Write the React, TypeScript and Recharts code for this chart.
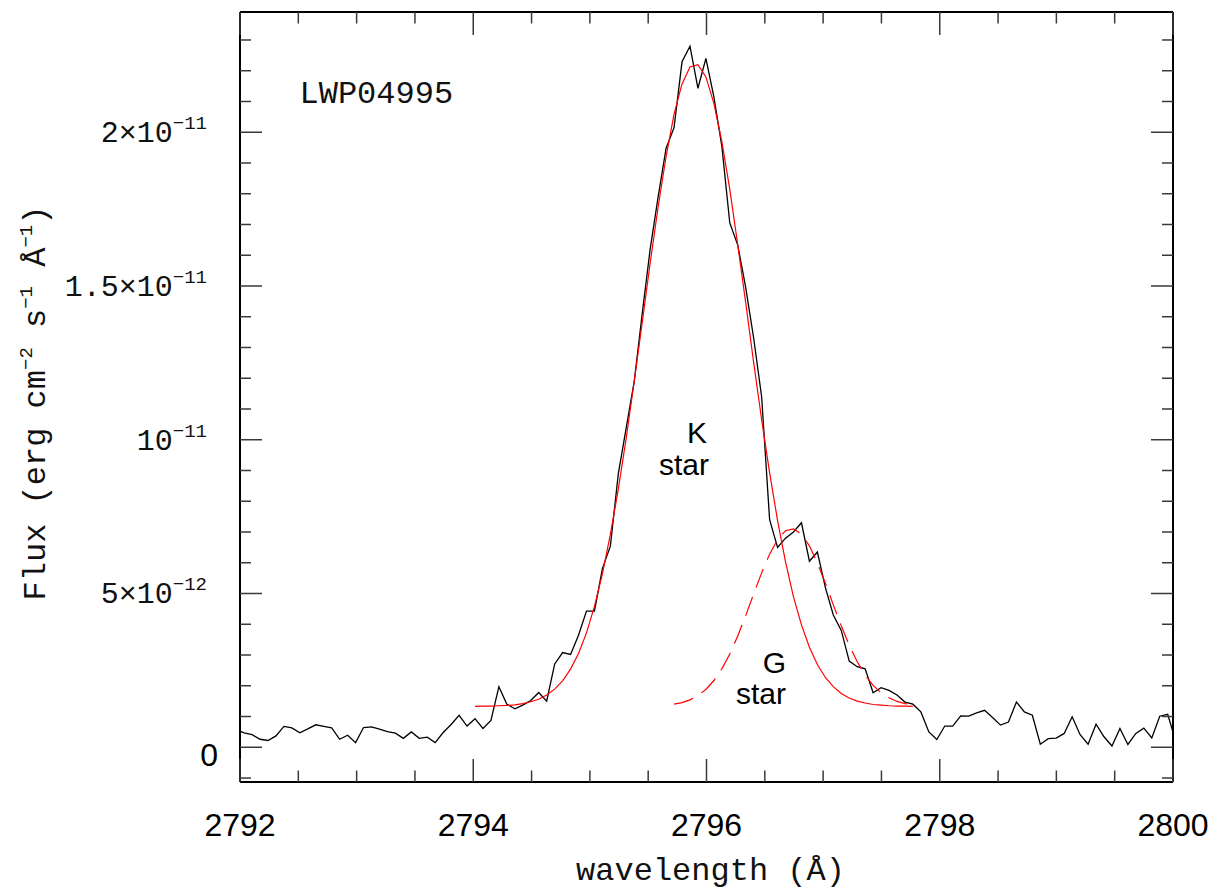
import React from 'react';
import { LineChart, Line, XAxis, YAxis, ReferenceDot } from 'recharts';

// IUE spectrum sampling (first sample sits just left of the frame)
const WAVE_START = 2791.967;
const WAVE_STEP = 0.06827;

// observed flux, units of 1e-12 erg cm-2 s-1 A-1
const FLUX = [
  0.57, 0.47, 0.41, 0.26, 0.22, 0.37, 0.68, 0.63, 0.47, 0.6, 0.73, 0.68, 0.63, 0.26, 0.39, 0.15,
  0.64, 0.66, 0.59, 0.51, 0.46, 0.29, 0.5, 0.29, 0.33, 0.15, 0.48, 0.74, 1.04, 0.69, 0.93, 0.61,
  0.87, 1.97, 1.4, 1.25, 1.37, 1.52, 1.78, 1.5, 2.7, 3.08, 3.02, 3.64, 4.43, 4.43, 5.81, 6.54,
  8.9, 10.4, 11.9, 14.1, 16.2, 17.9, 19.48, 20.15, 22.29, 22.8, 21.43, 22.4, 21.15, 19.55, 17.05, 16.33,
  14.95, 13.3, 11.4, 7.4, 6.5, 6.8, 7.0, 7.3, 6.05, 6.35, 5.2, 4.3, 3.8, 2.8, 2.62, 2.55,
  1.77, 1.94, 1.85, 1.7, 1.47, 1.4, 1.15, 0.5, 0.25, 0.69, 0.69, 1.02, 1.01, 1.12, 1.2, 0.97,
  0.72, 0.82, 1.47, 1.15, 1.04, 0.1, 0.28, 0.3, 0.45, 0.99, 0.41, 0.1, 0.75, 0.34, 0.04, 0.61,
  0.09, 0.45, 0.62, 0.3, 1.01, 1.07, 0.2,
];

// gaussian fit of the K star component (solid red), starts at sample 30
const FIT_K_START = 30;
const FIT_K = [
  1.33, 1.34, 1.34, 1.35, 1.36, 1.38, 1.42, 1.48, 1.56, 1.7, 1.89, 2.16, 2.54, 3.05, 3.72, 4.58,
  5.64, 6.92, 8.4, 10.07, 11.91, 13.81, 15.75, 17.57, 19.21, 20.59, 21.57, 22.12, 22.2, 21.8, 20.94, 19.7,
  18.14, 16.34, 14.45, 12.51, 10.65, 8.93, 7.37, 6.03, 4.89, 3.98, 3.25, 2.69, 2.27, 1.97, 1.75, 1.6,
  1.5, 1.44, 1.39, 1.37, 1.35, 1.34, 1.34, 1.33,
];

// gaussian fit of the G star component (dashed red), starts at sample 55
const FIT_G_START = 55;
const FIT_G = [
  1.4, 1.45, 1.54, 1.68, 1.88, 2.17, 2.55, 3.03, 3.62, 4.28, 4.99, 5.67, 6.28, 6.76, 7.04, 7.1,
  6.93, 6.55, 5.99, 5.34, 4.63, 3.95, 3.32, 2.78, 2.35, 2.01, 1.77, 1.61, 1.49, 1.42, 1.38,
];

const X_TICKS = [
  2792, 2792.5, 2793, 2793.5, 2794, 2794.5, 2795, 2795.5, 2796, 2796.5, 2797, 2797.5, 2798,
  2798.5, 2799, 2799.5, 2800,
];
const X_LABELS = [2792, 2794, 2796, 2798, 2800];

const Y_TICKS = [-1, 0, 1, 2, 3, 4, 5, 6, 7, 8, 9, 10, 11, 12, 13, 14, 15, 16, 17, 18, 19, 20, 21, 22, 23];
const Y_LABELS = [
  { value: 0, mantissa: '0', exp: '' },
  { value: 5, mantissa: '5×10', exp: '−12' },
  { value: 10, mantissa: '10', exp: '−11' },
  { value: 15, mantissa: '1.5×10', exp: '−11' },
  { value: 20, mantissa: '2×10', exp: '−11' },
];

const NOTES = [
  { wl: 2795.919, flux: 9.89, text: 'K' },
  { wl: 2795.807, flux: 8.84, text: 'star' },
  { wl: 2796.583, flux: 2.41, text: 'G' },
  { wl: 2796.467, flux: 1.42, text: 'star' },
];
const SPECTRUM_ID = { wl: 2792.51, flux: 20.95, text: 'LWP04995' };

const data = FLUX.map((f, k) => ({
  wl: +(WAVE_START + k * WAVE_STEP).toFixed(4),
  flux: f,
  fitK: k >= FIT_K_START && k < FIT_K_START + FIT_K.length ? FIT_K[k - FIT_K_START] : null,
  fitG: k >= FIT_G_START && k < FIT_G_START + FIT_G.length ? FIT_G[k - FIT_G_START] : null,
}));

const W = 1200;
const H = 888;
// axes carry the outer space around the plot box
const LEFT_W = 232;
const RIGHT_W = 35;
const TOP_H = 4;
const BOTTOM_H = 114;
const PLOT_W = W - LEFT_W - RIGHT_W;
const PLOT_H = H - TOP_H - BOTTOM_H;

const SANS = '"Liberation Sans", Arial, Helvetica, sans-serif';
const MONO = '"Liberation Mono", "DejaVu Sans Mono", monospace';
const TICK = '#3a3a3a';
const X_MAJOR = 23, X_MINOR = 11.5, Y_MAJOR = 22, Y_MINOR = 11;

const isXMajor = (v: number) => X_LABELS.includes(v);
const yLabel = (v: number) => Y_LABELS.find((l) => l.value === v);

function BottomTick(p: any) {
  const v = p.payload.value;
  const major = isXMajor(v);
  return (
    <g>
      <line x1={p.x} x2={p.x} y1={p.y} y2={p.y - (major ? X_MAJOR : X_MINOR)} stroke={TICK} strokeWidth={1.5} />
      {major && (
        <text x={p.x} y={p.y + 54} textAnchor="middle" fontFamily={SANS} fontSize={32} fill="#000">
          {v}
        </text>
      )}
    </g>
  );
}

function TopTick(p: any) {
  const major = isXMajor(p.payload.value);
  return <line x1={p.x} x2={p.x} y1={p.y} y2={p.y + (major ? X_MAJOR : X_MINOR)} stroke={TICK} strokeWidth={1.5} />;
}

function LeftTick(p: any) {
  const lab = yLabel(p.payload.value);
  return (
    <g>
      <line x1={p.x} x2={p.x + (lab ? Y_MAJOR : Y_MINOR)} y1={p.y} y2={p.y} stroke={TICK} strokeWidth={1.5} />
      {lab && lab.exp && (
        <text x={p.x - 33} y={p.y + 10} textAnchor="end" fontFamily={MONO} fontSize={30} fill="#111">
          {lab.mantissa}
          <tspan dy={-13} fontSize={19}>{lab.exp}</tspan>
        </text>
      )}
      {lab && !lab.exp && (
        <text x={p.x - 22} y={p.y + 19} textAnchor="end" fontFamily={SANS} fontSize={32} fill="#000">
          {lab.mantissa}
        </text>
      )}
    </g>
  );
}

function RightTick(p: any) {
  const lab = yLabel(p.payload.value);
  return <line x1={p.x} x2={p.x - (lab ? Y_MAJOR : Y_MINOR)} y1={p.y} y2={p.y} stroke={TICK} strokeWidth={1.5} />;
}

function XTitle() {
  return (
    <text x={LEFT_W + PLOT_W / 2 + 4} y={TOP_H + PLOT_H + 98} textAnchor="middle" fontFamily={MONO} fontSize={32} fill="#111">
      wavelength (Å)
    </text>
  );
}

function YTitle() {
  const cx = LEFT_W - 195;
  const cy = TOP_H + PLOT_H / 2 + 6;
  return (
    <text x={cx} y={cy} transform={`rotate(-90 ${cx} ${cy})`} textAnchor="middle" fontFamily={MONO} fontSize={32} fill="#111">
      Flux (erg cm
      <tspan dy={-13} fontSize={19}>−2</tspan>
      <tspan dy={13}> s</tspan>
      <tspan dy={-13} fontSize={19}>−1</tspan>
      <tspan dy={13}> Å</tspan>
      <tspan dy={-13} fontSize={19}>−1</tspan>
      <tspan dy={13}>)</tspan>
    </text>
  );
}

const frame = { stroke: '#000', strokeWidth: 2 };

export default function App() {
  return (
    <div style={{ width: W, height: 880 }}>
      <LineChart width={W} height={H} data={data} margin={{ top: 0, right: 0, bottom: 0, left: 0 }}>
        <XAxis
          dataKey="wl"
          type="number"
          domain={[2792, 2800]}
          allowDataOverflow
          ticks={X_TICKS}
          interval={0}
          height={BOTTOM_H}
          tickSize={0}
          tickMargin={0}
          tickLine={false}
          axisLine={frame}
          tick={(p: any) => <BottomTick {...p} />}
          label={{ content: () => <XTitle /> }}
        />
        <XAxis
          xAxisId="top"
          orientation="top"
          dataKey="wl"
          type="number"
          domain={[2792, 2800]}
          allowDataOverflow
          ticks={X_TICKS}
          interval={0}
          height={TOP_H}
          tickSize={0}
          tickMargin={0}
          tickLine={false}
          axisLine={frame}
          tick={(p: any) => <TopTick {...p} />}
        />
        <YAxis
          type="number"
          domain={[-1.13, 23.91]}
          allowDataOverflow
          ticks={Y_TICKS}
          interval={0}
          width={LEFT_W}
          tickSize={0}
          tickMargin={0}
          tickLine={false}
          axisLine={frame}
          tick={(p: any) => <LeftTick {...p} />}
          label={{ content: () => <YTitle /> }}
        />
        <YAxis
          yAxisId="right"
          orientation="right"
          type="number"
          domain={[-1.13, 23.91]}
          allowDataOverflow
          ticks={Y_TICKS}
          interval={0}
          width={RIGHT_W}
          tickSize={0}
          tickMargin={0}
          tickLine={false}
          axisLine={frame}
          tick={(p: any) => <RightTick {...p} />}
        />
        <Line type="linear" dataKey="flux" stroke="#000" strokeWidth={1.3} dot={false} activeDot={false} isAnimationActive={false} />
        <Line type="linear" dataKey="fitK" stroke="#ff0000" strokeWidth={1.2} dot={false} activeDot={false} isAnimationActive={false} />
        <Line
          type="linear"
          dataKey="fitG"
          stroke="#ff0000"
          strokeWidth={1.2}
          strokeDasharray="20 10"
          dot={false}
          activeDot={false}
          isAnimationActive={false}
        />
        {NOTES.map((n, i) => (
          <ReferenceDot
            key={i}
            x={n.wl}
            y={n.flux}
            r={0}
            shape={(p: any) => (
              <text x={p.cx} y={p.cy} textAnchor="middle" fontFamily={SANS} fontSize={30} fill="#000">
                {n.text}
              </text>
            )}
          />
        ))}
        <ReferenceDot
          x={SPECTRUM_ID.wl}
          y={SPECTRUM_ID.flux}
          r={0}
          shape={(p: any) => (
            <text x={p.cx} y={p.cy} textAnchor="start" fontFamily={MONO} fontSize={32} fill="#111">
              {SPECTRUM_ID.text}
            </text>
          )}
        />
      </LineChart>
    </div>
  );
}
